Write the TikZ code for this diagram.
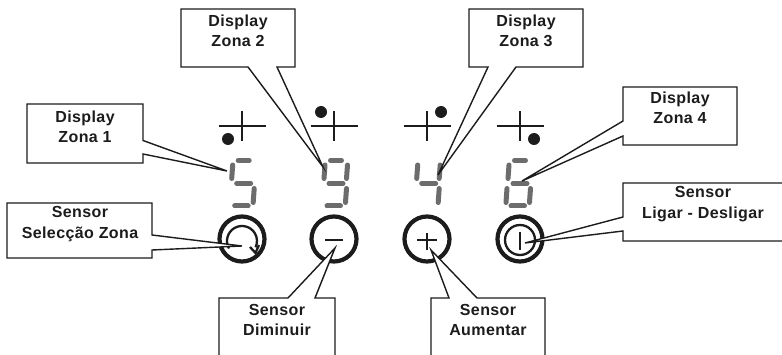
\documentclass[tikz,border=0pt]{standalone}
\usepackage{fontspec}
\newfontfamily\lblfont[LetterSpace=2.5]{Liberation Sans}
\definecolor{ink}{HTML}{1C1C1C}
\definecolor{seggray}{HTML}{6C6C6C}
\tikzset{
  calloutbox/.style={draw=ink,fill=white,line width=1.4pt,line join=miter},
  lbl/.style={font=\lblfont\bfseries\fontsize{16}{20.5}\selectfont,text=ink,align=center,inner sep=0pt},
  segstyle/.style={draw=seggray,line width=5pt,line cap=round},
  cross/.style={draw=ink,line width=1.8pt},
  ring/.style={draw=ink,line width=4.2pt},
  thinring/.style={draw=ink,line width=2.3pt},
  glyph/.style={draw=ink,line width=2pt}
}
\newcommand{\segT}[1]{\draw[segstyle] (#1+8.5,160.5)--(#1+19.5,160.5);}
\newcommand{\segUL}[1]{\draw[segstyle] (#1+3,165)--(#1+2,178.5);}
\newcommand{\segUR}[1]{\draw[segstyle] (#1+25.5,165)--(#1+24.5,178.5);}
\newcommand{\segM}[1]{\draw[segstyle] (#1+7,183.5)--(#1+21,183.5);}
\newcommand{\segLL}[1]{\draw[segstyle] (#1+1,188.5)--(#1+0,202.5);}
\newcommand{\segLR}[1]{\draw[segstyle] (#1+24.5,188.5)--(#1+23.5,202.5);}
\newcommand{\segB}[1]{\draw[segstyle] (#1+5,206)--(#1+18.5,206);}
\newcommand{\zonemark}[4]{%
  \draw[cross] (#1-23.5,#2)--(#1+23.5,#2);
  \draw[cross] (#1,#2-14.5)--(#1,#2+15);
  \fill[ink] (#3,#4) circle[radius=6];}
\begin{document}
\begin{tikzpicture}[x=1pt,y=-1pt]
\clip (0,0) rectangle (782,355);
\fill[white] (0,0) rectangle (782,355);
% zone marks
\zonemark{242}{126}{228}{139}
\zonemark{334}{126}{321}{112}
\zonemark{427}{126}{441}{112}
\zonemark{520}{126}{534}{139}
% digits
\segT{229.7}\segUL{229.7}\segM{229.7}\segLR{229.7}\segB{229.7}
\segT{322}\segUL{322}\segUR{322}\segM{322}\segLR{322}\segB{322}
\segUL{414.7}\segUR{414.7}\segM{414.7}\segLR{414.7}
\segT{506}\segUL{506}\segM{506}\segLL{506}\segLR{506}\segB{506}
% sensors
\draw[ring] (242,239) circle[radius=22.5];
\draw[thinring] (242,241) ++(150:15) arc[start angle=150,end angle=385,radius=15];
\draw[thinring] (250,247)--(255.5,253)--(259,245);
\draw[ring] (334,239) circle[radius=22.5];
\draw[glyph] (325,240)--(343,240);
\draw[ring] (427,239) circle[radius=22.5];
\draw[glyph] (417,240)--(437,240);
\draw[glyph] (427,233)--(427,250);
\draw[ring] (520,239) circle[radius=22.5];
\draw[thinring] (520,240) circle[radius=15];
\draw[glyph] (520,232)--(520,250);
% callouts
\draw[calloutbox] (27,104)--(143,104)--(143,140.5)--(227,171)--(143,154)--(143,163)--(27,163)--cycle;
\draw[calloutbox] (7,203)--(152,203)--(152,235)--(242,246)--(152,250)--(152,258)--(7,258)--cycle;
\draw[calloutbox] (181,9)--(295,9)--(295,67)--(277,67)--(323,167)--(248,67)--(181,67)--cycle;
\draw[calloutbox] (469,9)--(583,9)--(583,67)--(516,67)--(438,175)--(488,67)--(469,67)--cycle;
\draw[calloutbox] (623,87)--(737,87)--(737,145)--(623,145)--(623,136)--(522,181)--(623,121)--cycle;
\draw[calloutbox] (623,183)--(790,183)--(790,241)--(623,241)--(623,231)--(525,243)--(623,217)--cycle;
\draw[calloutbox] (219,298)--(288,298)--(335,248)--(315,298)--(335,298)--(335,365)--(219,365)--cycle;
\draw[calloutbox] (431,298)--(449,298)--(431,250)--(477,298)--(545,298)--(545,365)--(431,365)--cycle;
% labels
\node[lbl] (z1) at (85,127) {Display\\Zona 1};
\node[lbl] (s1) at (80,224) {Sensor\\Selecção Zona};
\node[lbl] (z2) at (238,31) {Display\\Zona 2};
\node[lbl] (z3) at (526,31) {Display\\Zona 3};
\node[lbl] (z4) at (680,108) {Display\\Zona 4};
\node[lbl] (s4) at (703,204) {Sensor\\Ligar - Desligar};
\node[lbl] (s2) at (277,320) {Sensor\\Diminuir};
\node[lbl] (s3) at (488,320) {Sensor\\Aumentar};
\end{tikzpicture}
\end{document}
